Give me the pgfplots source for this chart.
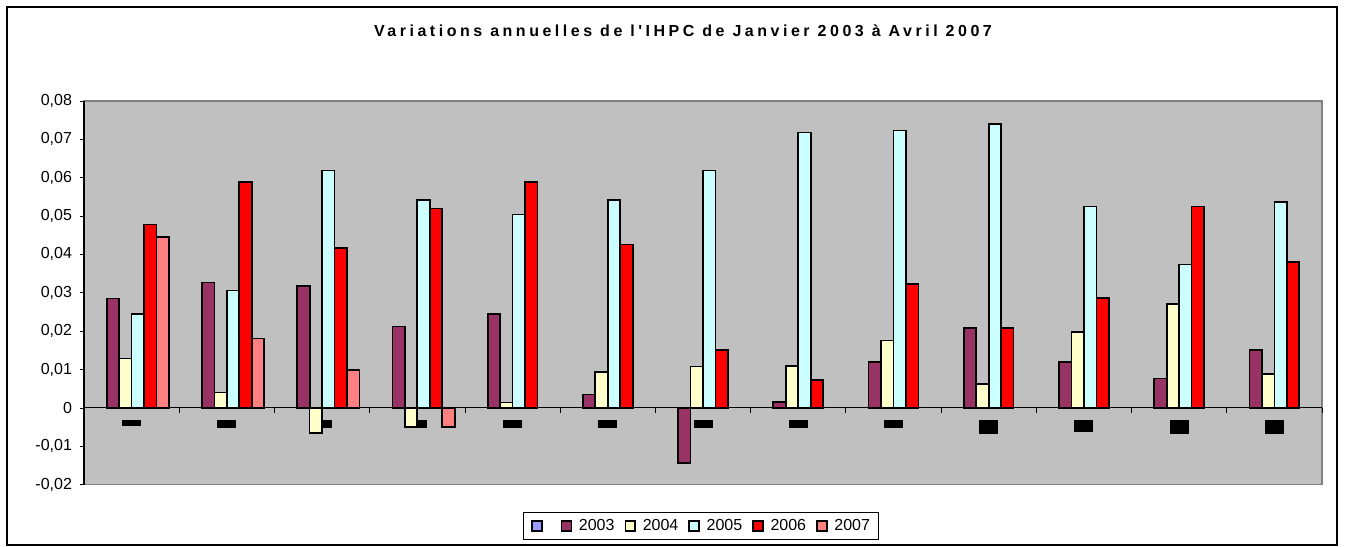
\documentclass[border=0pt]{standalone}
\usepackage{pgfplots}
\pgfplotsset{compat=1.18}
\usepackage{fontspec}
\setmainfont{Liberation Sans}
\newfontfamily\titlefont[LetterSpace=22]{Liberation Sans}

\definecolor{plotbg}{HTML}{C0C0C0}
\definecolor{plotframe}{HTML}{808080}
\definecolor{cblank}{HTML}{9999FF}
\definecolor{c2003}{HTML}{993366}
\definecolor{c2004}{HTML}{FFFFCC}
\definecolor{c2005}{HTML}{CCFFFF}
\definecolor{c2006}{HTML}{FF0000}
\definecolor{c2007}{HTML}{FF8080}

\pgfplotsset{
  sqleg/.style={legend image code/.code={
      \draw[##1, draw=black, line width=1.3pt] (0pt,-3.7pt) rectangle (7.4pt,3.7pt);}},
  barser/.style={ybar, bar width=9.35pt, bar shift=#1, forget plot,
      /tikz/draw=black, /tikz/line width=1.3pt},
}

\begin{document}
\begin{tikzpicture}
\path (-63pt,-46.7pt) rectangle (945.75pt,363.5pt);
\draw[line width=1pt] (-57.75pt,-45.2pt) rectangle (939.75pt,358.3pt);
\node[font=\titlefont\bfseries\fontsize{12}{14}\selectfont] at (449.25pt,340.3pt)
  {Variations annuelles de l'IHPC de Janvier 2003 à Avril 2007};
\begin{axis}[
    at={(0,0)}, anchor=south west,
    scale only axis, width=928.5pt, height=287.8pt,
    xmin=-0.5, xmax=12.5, ymin=-0.02, ymax=0.08,
    axis x line*=middle, axis y line*=left,
    axis line style={black, line width=0.8pt},
    axis background/.style={fill=plotbg, draw=plotframe, line width=1.2pt},
    tick align=outside,
    scaled y ticks=false,
    xtick={0,1,2,3,4,5,6,7,8,9,10,11,12},
    xticklabels={\rule{14.25pt}{4.3pt},\rule{14.25pt}{5.8pt},\rule{14.25pt}{5.8pt},
      \rule{14.25pt}{5.8pt},\rule{14.25pt}{5.8pt},\rule{14.25pt}{5.8pt},
      \rule{14.25pt}{5.8pt},\rule{14.25pt}{5.8pt},\rule{14.25pt}{5.8pt},
      \rule{14.25pt}{10.5pt},\rule{14.25pt}{9pt},\rule{14.25pt}{10.5pt},
      \rule{14.25pt}{10.5pt}},
    xticklabel style={anchor=north, inner sep=0pt, yshift=-5.8pt},
    major x tick style={draw=none},
    minor xtick={-0.5,0.5,1.5,2.5,3.5,4.5,5.5,6.5,7.5,8.5,9.5,10.5,11.5,12.5},
    minor x tick style={black, line width=0.6pt},
    minor tick length=3.5pt,
    ytick={-0.02,-0.01,0,0.01,0.02,0.03,0.04,0.05,0.06,0.07,0.08},
    yticklabels={{-0,02},{-0,01},0,{0,01},{0,02},{0,03},{0,04},{0,05},{0,06},{0,07},{0,08}},
    major tick length=3pt,
    ytick style={black, line width=0.6pt},
    yticklabel style={xshift=-2.5pt},
    tick label style={font=\fontsize{12}{14}\selectfont},
    /pgf/number format/assume math mode=true,
    legend columns=6,
    legend style={at={(0.498,-0.108)}, anchor=center, draw=black, line width=0.6pt,
      fill=white, font=\fontsize{12}{14}\selectfont, inner xsep=6pt, inner ysep=3pt,
      nodes={inner xsep=0pt},
      /tikz/every odd column/.append style={column sep=5pt},
      /tikz/every even column/.append style={column sep=7.5pt}},
]
\addlegendimage{sqleg, fill=cblank}
\addlegendentry{}
\addlegendimage{sqleg, fill=c2003}
\addlegendentry{2003}
\addlegendimage{sqleg, fill=c2004}
\addlegendentry{2004}
\addlegendimage{sqleg, fill=c2005}
\addlegendentry{2005}
\addlegendimage{sqleg, fill=c2006}
\addlegendentry{2006}
\addlegendimage{sqleg, fill=c2007}
\addlegendentry{2007}
\addplot[barser=-14.0pt, fill=c2003] coordinates {
  (0,0.0285)(1,0.0327)(2,0.0317)(3,0.0212)(4,0.0244)(5,0.0035)(6,-0.0143)
  (7,0.0015)(8,0.0119)(9,0.0208)(10,0.0119)(11,0.0077)(12,0.0150)};
\addplot[barser=-4.67pt, fill=c2004] coordinates {
  (0,0.0129)(1,0.0040)(2,-0.0065)(3,-0.0049)(4,0.0014)(5,0.0093)(6,0.0108)
  (7,0.0109)(8,0.0176)(9,0.0062)(10,0.0197)(11,0.0270)(12,0.0088)};
\addplot[barser=4.67pt, fill=c2005] coordinates {
  (0,0.0244)(1,0.0306)(2,0.0619)(3,0.0541)(4,0.0504)(5,0.0541)(6,0.0619)
  (7,0.0718)(8,0.0723)(9,0.0739)(10,0.0525)(11,0.0374)(12,0.0536)};
\addplot[barser=14.0pt, fill=c2006] coordinates {
  (0,0.0478)(1,0.0588)(2,0.0416)(3,0.0520)(4,0.0588)(5,0.0426)(6,0.0150)
  (7,0.0072)(8,0.0322)(9,0.0208)(10,0.0286)(11,0.0525)(12,0.0380)};
\addplot[barser=23.4pt, fill=c2007] coordinates {
  (0,0.0446)(1,0.0181)(2,0.0098)(3,-0.0049)};
\end{axis}
\end{tikzpicture}
\end{document}
